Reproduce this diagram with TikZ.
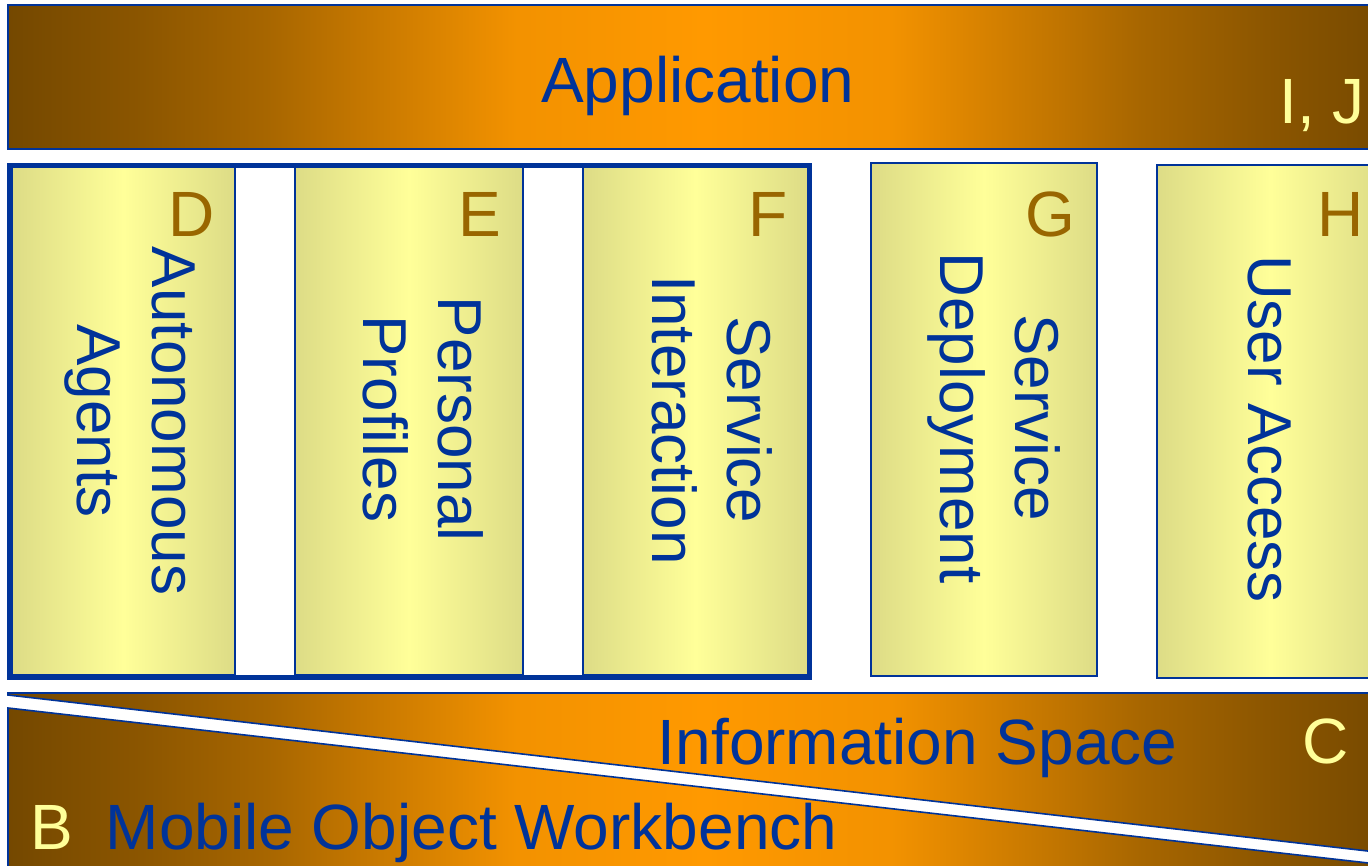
\documentclass[tikz,border=0pt]{standalone}
\usepackage{fontspec}
\setmainfont{Liberation Sans}

\definecolor{bronze}{RGB}{116,72,0}
\definecolor{amber}{RGB}{255,153,0}
\definecolor{paleedge}{RGB}{221,220,134}
\definecolor{palemid}{RGB}{255,255,153}
\definecolor{ink}{RGB}{0,51,153}
\definecolor{tagbrown}{RGB}{153,102,0}
\definecolor{taglight}{RGB}{255,255,153}

% intermediate tones of the bronze-to-amber ramp
\colorlet{ramp16}{amber!16!bronze}
\colorlet{ramp37}{amber!37!bronze}
\colorlet{ramp66}{amber!66!bronze}
\colorlet{ramp91}{amber!91!bronze}

% dark at both ends, amber in the middle, brightening faster towards the centre
\pgfdeclarehorizontalshading{bandshade}{100bp}{%
  color(0bp)=(bronze); color(25bp)=(bronze);
  color(29.5bp)=(ramp16); color(34.3bp)=(ramp37);
  color(39.1bp)=(ramp66); color(43.2bp)=(ramp91);
  color(50bp)=(amber);
  color(56.8bp)=(ramp91); color(60.9bp)=(ramp66);
  color(65.7bp)=(ramp37); color(70.5bp)=(ramp16);
  color(75bp)=(bronze); color(100bp)=(bronze)}

\tikzset{
  band/.style={draw=ink, line width=1.6pt, shade, shading=bandshade},
  card/.style={draw=ink, line width=1.6pt, left color=paleedge, right color=paleedge, middle color=palemid},
  group/.style={draw=ink, line width=4.5pt},
  title/.style={text=ink, font=\fontsize{64}{77}\selectfont, inner sep=0pt},
  vlabel/.style={text=ink, font=\fontsize{62}{75}\selectfont, inner sep=0pt, rotate=-90, align=center},
  darktag/.style={text=tagbrown, font=\fontsize{64}{77}\selectfont, inner sep=0pt, anchor=base east},
  lighttag/.style={text=taglight, font=\fontsize{64}{77}\selectfont, inner sep=0pt}
}

\begin{document}
\begin{tikzpicture}[x=1pt, y=-1pt]
  \useasboundingbox (0,0) rectangle (1368,865);
  \clip (0,0) rectangle (1368,865);
  \fill[white] (0,0) rectangle (1368,865);

  % top layer
  \path[band] (8,5) rectangle (1400,149);
  \node[title, anchor=base west] (app) at (541,102) {Application};
  \node[lighttag, anchor=base west] (ij) at (1279,123) {I, J};

  % service components
  \path[card] (12,167) rectangle (235,675);
  \path[card] (295,167) rectangle (523,675);
  \path[card] (583,167) rectangle (808,675);
  \path[card] (871,163) rectangle (1097,676);
  \path[card] (1157,165) rectangle (1384,678);
  \path[group] (9.5,165.5) rectangle (809.5,677.5);

  \node[darktag] (tD) at (215,236) {D};
  \node[darktag] (tE) at (501,236) {E};
  \node[darktag] (tF) at (788,236) {F};
  \node[darktag] (tG) at (1075,236) {G};
  \node[darktag] (tH) at (1364,236) {H};

  \node[vlabel] (agents) at (130,421) {\strut Autonomous\\\strut Agents};
  \node[vlabel] (profiles) at (415.5,419) {\strut Personal\\\strut Profiles};
  \node[vlabel] (interaction) at (704.5,420) {\strut Service\\\strut Interaction};
  \node[vlabel] (deployment) at (992.5,418) {\strut Service\\\strut Deployment};
  \node[vlabel] (access) at (1263,429) {\strut User Access};

  % lower layers split by the diagonal
  \path[band] (8,693) -- (1400,693) -- (1400,854.7) -- (8,695) -- cycle;
  \path[band] (8,708) -- (1400,866.6) -- (1400,900) -- (8,900) -- cycle;

  \node[title, anchor=base east] (info) at (1177.5,764) {Information Space};
  \node[lighttag, anchor=base] (tC) at (1326,763) {C};
  \node[lighttag, anchor=base] (tB) at (52,849) {B};
  \node[title, anchor=base west] (mow) at (105.5,849) {Mobile Object Workbench};
\end{tikzpicture}
\end{document}
